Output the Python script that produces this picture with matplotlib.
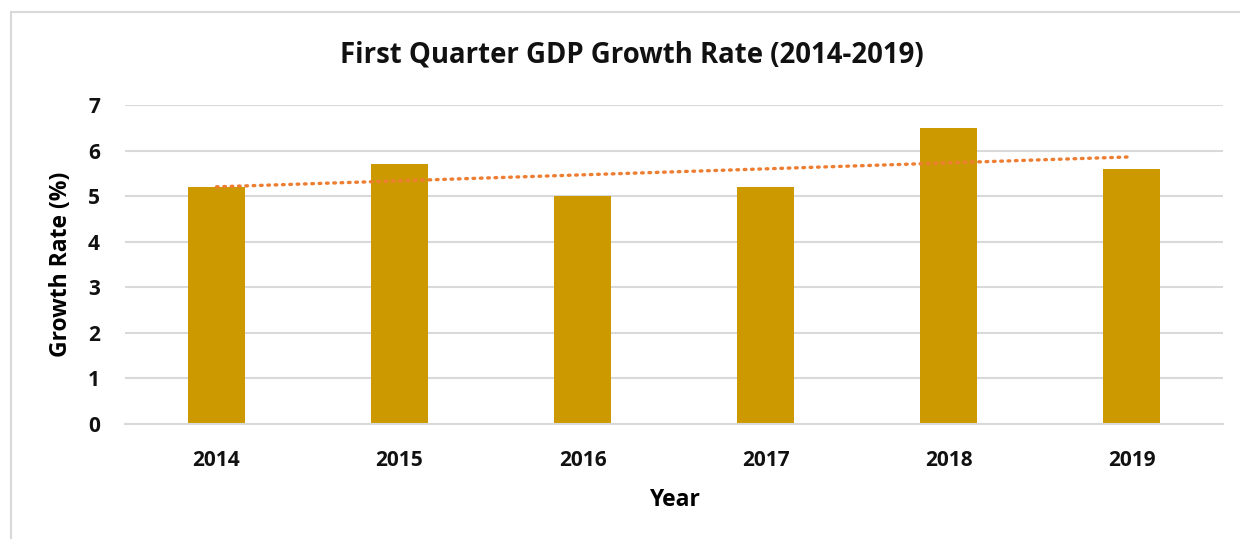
import numpy as np
import matplotlib.pyplot as plt
from matplotlib.patches import Rectangle

YEARS = ["2014", "2015", "2016", "2017", "2018", "2019"]
GROWTH = [5.2, 5.7, 5.0, 5.2, 6.5, 5.6]

TITLE = "First Quarter GDP Growth Rate (2014-2019)"
BAR_COLOR = "#CC9A00"
TREND_COLOR = "#ED7D31"
GRID_COLOR = "#D9D9D9"

plt.rcParams["font.family"] = ["Open Sans", "DejaVu Sans"]


def main():
    fig = plt.figure(figsize=(12.4, 5.39), dpi=100)
    W, H = 1240, 539
    ax = fig.add_axes([125 / W, 1 - 424 / H, (1223 - 125) / W, (424 - 105) / H])

    x = np.arange(len(YEARS))
    ax.bar(x, GROWTH, width=0.31, color=BAR_COLOR, zorder=2)

    # linear trendline, as in the spreadsheet chart
    slope, intercept = np.polyfit(x, GROWTH, 1)
    ax.plot(x, slope * x + intercept, color=TREND_COLOR, lw=2.4,
            linestyle=(0, (0.5, 1.7)), dash_capstyle="round", zorder=3)

    ax.set_xlim(-0.5, len(YEARS) - 0.5)
    ax.set_ylim(0, 7)
    ax.set_yticks(range(8))
    ax.set_xticks(x)
    ax.set_xticklabels(YEARS)
    ax.yaxis.grid(True, color=GRID_COLOR, lw=1.5, zorder=0)
    ax.set_axisbelow(True)
    for s in ["top", "right", "left"]:
        ax.spines[s].set_visible(False)
    ax.spines["bottom"].set_color(GRID_COLOR)
    ax.spines["bottom"].set_linewidth(1.5)
    ax.tick_params(length=0)
    ax.tick_params(axis="x", pad=19)
    ax.tick_params(axis="y", pad=18)
    for lbl in ax.get_xticklabels() + ax.get_yticklabels():
        lbl.set_fontweight("bold")
        lbl.set_fontsize(15)
        lbl.set_color("#111111")

    ax.set_xlabel("Year", fontsize=16.5, fontweight="bold", labelpad=12)
    ax.set_ylabel("Growth Rate (%)", fontsize=16.5, fontweight="bold", labelpad=11)

    fig.text(632 / W, 1 - 55 / H, TITLE, ha="center", va="center",
             fontsize=19.8, fontweight="bold", color="#111111")

    # chart frame (only top/left visible in the crop)
    fig.patches.append(Rectangle((11 / W, -0.1), 1.2, 1 - 12 / H + 0.1,
                                 transform=fig.transFigure, fill=False,
                                 edgecolor=GRID_COLOR, lw=1.5))

    fig.savefig("out.png", dpi=100)


if __name__ == "__main__":
    main()
